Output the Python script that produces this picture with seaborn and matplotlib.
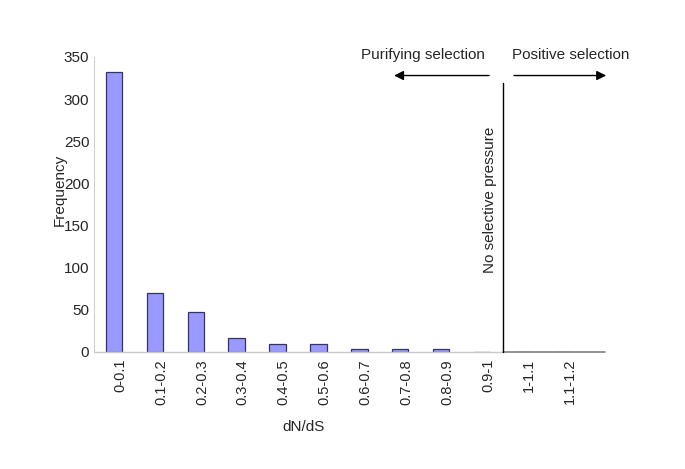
import numpy as np
import pandas as pd
import matplotlib.pyplot as plt
import seaborn as sns

# dN/dS bins and counts
bins = ["0-0.1", "0.1-0.2", "0.2-0.3", "0.3-0.4", "0.4-0.5", "0.5-0.6",
        "0.6-0.7", "0.7-0.8", "0.8-0.9", "0.9-1", "1-1.1", "1.1-1.2"]
freq = [332, 70, 47, 16, 9, 9, 3, 3, 3, 0, 0, 0]
yticks = [0, 50, 100, 150, 200, 250, 300, 350]

df = pd.DataFrame({"bin": bins, "freq": freq})

sns.set_theme(style="white")
plt.rcParams["font.family"] = ["Liberation Sans", "DejaVu Sans"]

fig = plt.figure(figsize=(6.85, 4.69), dpi=100)
ax = fig.add_axes([0.1365, 0.2495, 0.7465, 0.629])

sns.barplot(data=df, x="bin", y="freq", ax=ax, width=0.4,
            color="#9999ff", edgecolor="#333366", linewidth=0.9, saturation=1)

ax.set_xlim(-0.5, 12.0)
ax.set_ylim(0, 350)
ax.set_yticks(yticks)
ax.tick_params(axis="y", length=0, pad=3, labelsize=11)
# labels sit a little right of the bar centres, as in the original
ax.set_xticks(np.arange(len(bins)) + 0.15)
ax.set_xticklabels(bins)
ax.tick_params(axis="x", length=0, pad=5, labelsize=10.5, labelrotation=90)
ax.set_xticks(np.arange(len(bins)) + 0.5, minor=True)
ax.tick_params(axis="x", which="minor", length=4, color="#c8c8c8", direction="out")

for s in ["top", "right"]:
    ax.spines[s].set_visible(False)
ax.spines["left"].set_color("#d0d0d0")
ax.spines["left"].set_linewidth(0.8)
ax.spines["bottom"].set_visible(False)

# baseline: light on the left, darker past dN/dS = 1
ax.plot([-0.5, 9.5], [0, 0], color="#c8c8c8", lw=1, clip_on=False)
ax.plot([9.5, 12.0], [0, 0], color="#808080", lw=1.2, clip_on=False)
ax.plot([9.5, 9.5], [0, 319], color="black", lw=1, clip_on=False)

ax.set_xlabel("dN/dS", fontsize=11)
ax.xaxis.set_label_coords(0.41, -0.232)
ax.set_ylabel("Frequency", fontsize=11)
ax.yaxis.set_label_coords(-0.052, 0.55)

ax.text(9.2, 180, "No selective pressure", rotation=90, ha="center",
        va="center", fontsize=11)
ax.text(7.56, 352, "Purifying selection", ha="center", va="center", fontsize=11)
ax.text(11.17, 352, "Positive selection", ha="center", va="center", fontsize=11)
ax.annotate("", xy=(6.78, 328), xytext=(9.24, 328), annotation_clip=False,
            arrowprops=dict(arrowstyle="-|>", color="black", lw=1,
                            mutation_scale=14))
ax.annotate("", xy=(12.1, 328), xytext=(9.71, 328), annotation_clip=False,
            arrowprops=dict(arrowstyle="-|>", color="black", lw=1,
                            mutation_scale=14))

fig.savefig("out.png", dpi=100)
